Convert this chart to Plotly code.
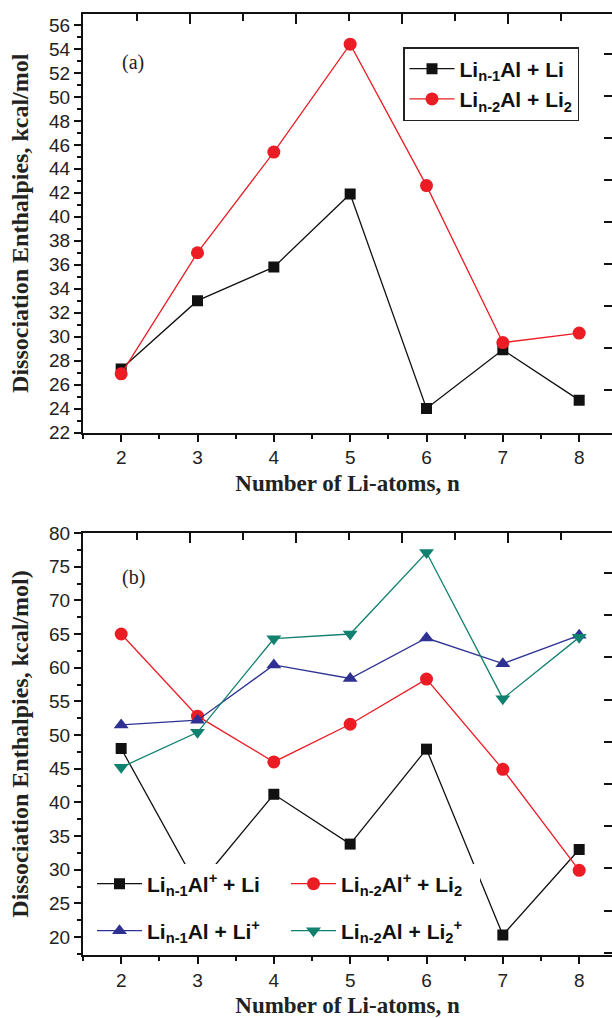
import plotly.graph_objects as go

# ---------------- data ----------------
n_atoms = [2, 3, 4, 5, 6, 7, 8]

# panel (a)
a_li_n1_al_li = [27.3, 33.0, 35.8, 41.9, 24.0, 28.9, 24.7]
a_li_n2_al_li2 = [26.9, 37.0, 45.4, 54.4, 42.6, 29.5, 30.3]

# panel (b)
b_li_n1_alp_li = [48.0, 27.5, 41.2, 33.8, 47.9, 20.3, 33.0]
b_li_n2_alp_li2 = [65.0, 52.8, 46.0, 51.6, 58.3, 44.9, 29.9]
b_li_n1_al_lip = [51.5, 52.2, 60.4, 58.4, 64.4, 60.6, 64.8]
b_li_n2_al_li2p = [45.2, 50.4, 64.3, 65.0, 77.1, 55.4, 64.5]

name_a1 = "Li<sub>n-1</sub>Al + Li"
name_a2 = "Li<sub>n-2</sub>Al + Li<sub>2</sub>"
name_b1 = "Li<sub>n-1</sub>Al<sup>+</sup> + Li"
name_b2 = "Li<sub>n-2</sub>Al<sup>+</sup> + Li<sub>2</sub>"
name_b3 = "Li<sub>n-1</sub>Al + Li<sup>+</sup>"
name_b4 = "Li<sub>n-2</sub>Al + Li<sub>2</sub><sup>+</sup>"

y_title_a = "Dissociation Enthalpies, kcal/mol"
y_title_b = "Dissociation Enthalpies, kcal/mol)"
x_title = "Number of Li-atoms, n"

# index of the frame's unlabelled (other-scale) ticks
deco_ticks = list(range(0, 10))

# ---------------- style ----------------
W, H = 612, 1018
BLACK = "#111111"
RED = "#ec1c24"
BLUE = "#2e3192"
GREEN = "#10806f"
SANS = "Liberation Sans, Arial, sans-serif"
SERIF = "Liberation Serif, Times New Roman, serif"

YA_RANGE = [22, 56.92]
YB_RANGE = [17.33, 80]
X_RANGE = [1.5, 8.43]
PLOT_L, PLOT_R = 83, 612                    # plot area, px
PA_TOP, PA_BOT = 14, 432.5
PB_TOP, PB_BOT = 533, 955
TOP_TICK0_PX, TOP_TICK_STEP_PX = 137, 53    # spacing of top-frame ticks
TOP_TICK_LONG, TOP_TICK_SHORT = 10, 7       # px

def px_x(p):
    return p / W

def px_y(p):
    return 1 - p / H

x_dom = [px_x(PLOT_L), 1.0]
ya_dom = [px_y(PA_BOT), px_y(PA_TOP)]
yb_dom = [px_y(PB_BOT), px_y(PB_TOP)]

# top-frame tick positions in x data units (of the unlabelled top scale)
units_per_px = (X_RANGE[1] - X_RANGE[0]) / (PLOT_R - PLOT_L)
top_tick_x = [X_RANGE[0] + (TOP_TICK0_PX + k * TOP_TICK_STEP_PX - PLOT_L) * units_per_px
              for k in deco_ticks[:9]]

fig = go.Figure()

def add(x, y, name, color, symbol, size, xa, ya, legend):
    fig.add_trace(go.Scatter(
        x=x, y=y, name=name, mode="lines+markers",
        line=dict(color=color, width=1.3),
        marker=dict(color=color, symbol=symbol, size=size),
        xaxis=xa, yaxis=ya, legend=legend,
    ))

add(n_atoms, a_li_n1_al_li, name_a1, BLACK, "square", 11, "x", "y", "legend")
add(n_atoms, a_li_n2_al_li2, name_a2, RED, "circle", 13, "x", "y", "legend")

add(n_atoms, b_li_n1_alp_li, name_b1, BLACK, "square", 11, "x2", "y2", "legend2")
add(n_atoms, b_li_n2_alp_li2, name_b2, RED, "circle", 13, "x2", "y2", "legend2")
add(n_atoms, b_li_n1_al_lip, name_b3, BLUE, "triangle-up", 13, "x2", "y2", "legend3")
add(n_atoms, b_li_n2_al_li2p, name_b4, GREEN, "triangle-down", 13, "x2", "y2", "legend3")

# invisible helper traces for the right-side tick-only axes
for ya, xs in [("y3", "x"), ("y4", "x2")]:
    fig.add_trace(go.Scatter(x=n_atoms[:1] * 10, y=deco_ticks, xaxis=xs,
                             yaxis=ya, mode="markers",
                             marker=dict(opacity=0, size=1),
                             showlegend=False, hoverinfo="skip"))

# top-frame ticks (inward), drawn as short frame shapes
shapes = []
for xref, yref, h_px in [("x", "y domain", PA_BOT - PA_TOP),
                         ("x2", "y2 domain", PB_BOT - PB_TOP)]:
    for k, xv in enumerate(top_tick_x):
        ln = TOP_TICK_LONG if k % 2 == 1 else TOP_TICK_SHORT
        shapes.append(dict(type="line", xref=xref, yref=yref,
                           x0=xv, x1=xv, y0=1, y1=1 - ln / h_px,
                           line=dict(color="#111111", width=2),
                           layer="above"))

tickfont = dict(family=SANS, size=19, color="#222222")
xtitlefont = dict(family=SERIF, size=23, color="#222222", weight="bold")
ytitlefont = dict(family=SERIF, size=24, color="#222222", weight="bold")

def xaxis_cfg(anchor, standoff):
    return dict(
        domain=x_dom, range=X_RANGE, anchor=anchor, automargin=False,
        tickmode="linear", tick0=2, dtick=1,
        ticks="outside", ticklen=7, tickwidth=2, tickcolor="#111111",
        minor=dict(dtick=0.5, tick0=1.5, ticks="outside", ticklen=4,
                   tickwidth=2, tickcolor="#111111"),
        showline=True, linewidth=2, linecolor="#111111", mirror=True,
        showgrid=False, zeroline=False, tickfont=tickfont,
        title=dict(text=x_title, font=xtitlefont, standoff=standoff),
    )

def yaxis_cfg(anchor, dom, rng, dtick, mdtick, title):
    return dict(
        domain=dom, range=rng, anchor=anchor, automargin=False,
        tickmode="linear", tick0=0, dtick=dtick,
        ticks="outside", ticklen=7, tickwidth=2, tickcolor="#111111",
        minor=dict(dtick=mdtick, ticks="outside", ticklen=4,
                   tickwidth=2, tickcolor="#111111"),
        showline=True, linewidth=2, linecolor="#111111", mirror=False,
        showgrid=False, zeroline=False, tickfont=tickfont,
        title=dict(text=title, font=ytitlefont, standoff=14),
    )

def right_dummy(over, anchor, rng):
    return dict(overlaying=over, anchor=anchor, side="right", automargin=False,
                range=rng, tickmode="linear", tick0=0, dtick=1,
                ticks="inside", ticklen=8, tickwidth=2, tickcolor="#111111",
                showticklabels=False, showline=False, showgrid=False,
                zeroline=False)

legend_font = dict(family=SANS, size=21, color="#111111", weight="bold")

fig.update_layout(
    width=W, height=H,
    margin=dict(l=0, r=0, t=0, b=0, autoexpand=False),
    paper_bgcolor="white", plot_bgcolor="white",
    xaxis=xaxis_cfg("y", 8),
    yaxis=yaxis_cfg("x", ya_dom, YA_RANGE, 2, 1, y_title_a),
    xaxis2=xaxis_cfg("y2", 22),
    yaxis2=yaxis_cfg("x2", yb_dom, YB_RANGE, 5, 2.5, y_title_b),
    yaxis3=right_dummy("y", "x", [0, 9.96]),
    yaxis4=right_dummy("y2", "x2", [-0.05, 9.95]),
    shapes=shapes,
    legend=dict(x=px_x(403), y=px_y(47), xanchor="left", yanchor="top",
                bgcolor="white", bordercolor="#222222", borderwidth=1.5,
                font=legend_font, tracegroupgap=0, itemwidth=45),
    legend2=dict(x=px_x(92), y=px_y(884), xanchor="left", yanchor="middle",
                 orientation="h", entrywidth=134, itemwidth=45,
                 bgcolor="white", borderwidth=0, font=legend_font),
    legend3=dict(x=px_x(92), y=px_y(931), xanchor="left", yanchor="middle",
                 orientation="h", entrywidth=134, itemwidth=45,
                 bgcolor="rgba(0,0,0,0)", borderwidth=0, font=legend_font),
    annotations=[
        dict(text="(a)", x=px_x(120), y=px_y(49), xref="paper", yref="paper",
             showarrow=False, font=dict(family=SERIF, size=20, color="#222222")),
        dict(text="(b)", x=px_x(120), y=px_y(577), xref="paper", yref="paper",
             showarrow=False, font=dict(family=SERIF, size=20, color="#222222")),
    ],
    showlegend=True,
)

# remove the browser's default page margin so the figure fills the window
page_fix = ("document.documentElement.style.margin='0';"
            "document.body.style.margin='0';"
            "document.body.style.overflow='hidden';")

fig.write_html("out.html", post_script=page_fix,
               config={"displayModeBar": False})
